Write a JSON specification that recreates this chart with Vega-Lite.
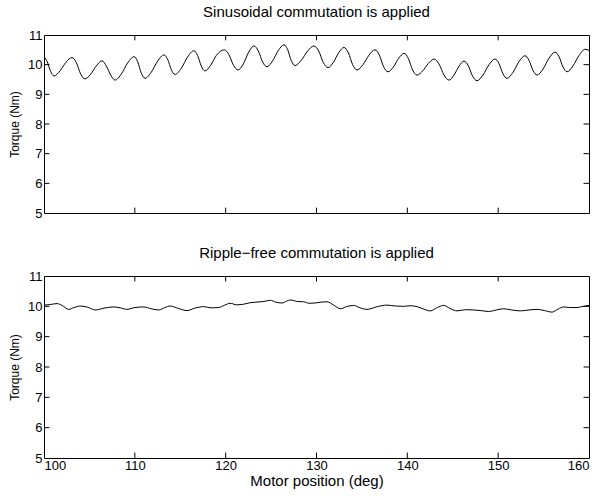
{
  "$schema": "https://vega.github.io/schema/vega-lite/v6.json",
  "padding": {"left": 8, "top": 4, "right": 8, "bottom": 2},
  "config": {
    "font": "Liberation Sans",
    "view": {"stroke": "black", "strokeWidth": 1},
    "axis": {
      "grid": false,
      "domain": false,
      "ticks": false,
      "labelPadding": 2,
      "labelColor": "black",
      "labelFontSize": 13,
      "labelFont": "Liberation Sans",
      "titleFont": "Liberation Sans",
      "titleFontWeight": "normal",
      "titleColor": "black"
    },
    "title": {"font": "Liberation Sans", "fontSize": 15, "fontWeight": "normal", "color": "black", "offset": 9}
  },
  "spacing": 24,
  "datasets": {
    "xticks": [{"v": 110}, {"v": 120}, {"v": 130}, {"v": 140}, {"v": 150}],
    "yticks": [{"v": 6}, {"v": 7}, {"v": 8}, {"v": 9}, {"v": 10}],
    "top": [
      {"pos": 100.0, "torque": 10.26}, {"pos": 100.37, "torque": 10.09}, {"pos": 100.73, "torque": 9.77}, {"pos": 101.1, "torque": 9.62},
      {"pos": 101.76, "torque": 9.79}, {"pos": 102.42, "torque": 10.08}, {"pos": 103.08, "torque": 10.24},
      {"pos": 103.56, "torque": 10.07}, {"pos": 104.03, "torque": 9.69}, {"pos": 104.51, "torque": 9.52},
      {"pos": 105.14, "torque": 9.68}, {"pos": 105.76, "torque": 9.96}, {"pos": 106.39, "torque": 10.13},
      {"pos": 106.87, "torque": 9.95}, {"pos": 107.34, "torque": 9.65}, {"pos": 107.82, "torque": 9.48},
      {"pos": 108.52, "torque": 9.69}, {"pos": 109.21, "torque": 10.06}, {"pos": 109.91, "torque": 10.27},
      {"pos": 110.31, "torque": 10.1}, {"pos": 110.72, "torque": 9.71}, {"pos": 111.12, "torque": 9.54},
      {"pos": 111.82, "torque": 9.75}, {"pos": 112.51, "torque": 10.12}, {"pos": 113.21, "torque": 10.33},
      {"pos": 113.61, "torque": 10.18}, {"pos": 114.02, "torque": 9.83}, {"pos": 114.42, "torque": 9.67},
      {"pos": 115.12, "torque": 9.88}, {"pos": 115.81, "torque": 10.26}, {"pos": 116.51, "torque": 10.47},
      {"pos": 116.91, "torque": 10.31}, {"pos": 117.32, "torque": 9.95}, {"pos": 117.72, "torque": 9.79},
      {"pos": 118.35, "torque": 9.98}, {"pos": 118.97, "torque": 10.31}, {"pos": 119.85, "torque": 10.5},
      {"pos": 120.35, "torque": 10.34}, {"pos": 120.86, "torque": 9.98}, {"pos": 121.36, "torque": 9.82},
      {"pos": 121.95, "torque": 10.03}, {"pos": 122.53, "torque": 10.42}, {"pos": 123.12, "torque": 10.63},
      {"pos": 123.6, "torque": 10.46}, {"pos": 124.07, "torque": 10.09}, {"pos": 124.55, "torque": 9.93},
      {"pos": 125.17, "torque": 10.13}, {"pos": 125.8, "torque": 10.48}, {"pos": 126.42, "torque": 10.67},
      {"pos": 126.82, "torque": 10.51}, {"pos": 127.23, "torque": 10.13}, {"pos": 127.63, "torque": 9.97},
      {"pos": 128.33, "torque": 10.15}, {"pos": 129.02, "torque": 10.46}, {"pos": 129.72, "torque": 10.63},
      {"pos": 130.24, "torque": 10.46}, {"pos": 130.75, "torque": 10.07}, {"pos": 131.27, "torque": 9.9},
      {"pos": 131.86, "torque": 10.08}, {"pos": 132.44, "torque": 10.4}, {"pos": 133.03, "torque": 10.58},
      {"pos": 133.51, "torque": 10.4}, {"pos": 133.98, "torque": 10.0}, {"pos": 134.46, "torque": 9.82},
      {"pos": 135.12, "torque": 10.0}, {"pos": 135.78, "torque": 10.32}, {"pos": 136.44, "torque": 10.5},
      {"pos": 136.92, "torque": 10.32}, {"pos": 137.39, "torque": 9.93}, {"pos": 137.87, "torque": 9.76},
      {"pos": 138.46, "torque": 9.92}, {"pos": 139.04, "torque": 10.21}, {"pos": 139.63, "torque": 10.38},
      {"pos": 140.11, "torque": 10.21}, {"pos": 140.58, "torque": 9.82}, {"pos": 141.06, "torque": 9.65},
      {"pos": 141.69, "torque": 9.79}, {"pos": 142.31, "torque": 10.04}, {"pos": 142.94, "torque": 10.19},
      {"pos": 143.49, "torque": 10.02}, {"pos": 144.04, "torque": 9.65}, {"pos": 144.59, "torque": 9.48},
      {"pos": 145.14, "torque": 9.65}, {"pos": 145.69, "torque": 9.95}, {"pos": 146.24, "torque": 10.12},
      {"pos": 146.72, "torque": 9.96}, {"pos": 147.19, "torque": 9.61}, {"pos": 147.67, "torque": 9.46},
      {"pos": 148.33, "torque": 9.65}, {"pos": 148.99, "torque": 10.0}, {"pos": 149.65, "torque": 10.19},
      {"pos": 150.09, "torque": 10.04}, {"pos": 150.53, "torque": 9.69}, {"pos": 150.97, "torque": 9.54},
      {"pos": 151.63, "torque": 9.74}, {"pos": 152.29, "torque": 10.1}, {"pos": 152.95, "torque": 10.3},
      {"pos": 153.39, "torque": 10.15}, {"pos": 153.84, "torque": 9.8}, {"pos": 154.28, "torque": 9.65},
      {"pos": 154.94, "torque": 9.85}, {"pos": 155.6, "torque": 10.22}, {"pos": 156.26, "torque": 10.42},
      {"pos": 156.7, "torque": 10.27}, {"pos": 157.14, "torque": 9.92}, {"pos": 157.58, "torque": 9.76},
      {"pos": 158.24, "torque": 9.96}, {"pos": 158.9, "torque": 10.31}, {"pos": 159.56, "torque": 10.52},
      {"pos": 160.0, "torque": 10.48}
    ],
    "bottom": [
      {"pos": 100.0, "torque": 10.04}, {"pos": 100.7, "torque": 10.06}, {"pos": 101.43, "torque": 10.09}, {"pos": 102.0, "torque": 10.03},
      {"pos": 102.72, "torque": 9.9}, {"pos": 103.3, "torque": 9.96}, {"pos": 104.0, "torque": 10.01}, {"pos": 104.8, "torque": 9.97},
      {"pos": 105.65, "torque": 9.88}, {"pos": 106.6, "torque": 9.94}, {"pos": 107.67, "torque": 9.98}, {"pos": 108.4, "torque": 9.95},
      {"pos": 109.14, "torque": 9.9}, {"pos": 110.0, "torque": 9.96}, {"pos": 110.97, "torque": 9.98}, {"pos": 111.8, "torque": 9.92},
      {"pos": 112.63, "torque": 9.88}, {"pos": 113.3, "torque": 9.96}, {"pos": 113.9, "torque": 10.01}, {"pos": 114.8, "torque": 9.93},
      {"pos": 115.74, "torque": 9.86}, {"pos": 116.6, "torque": 9.94}, {"pos": 117.58, "torque": 9.99}, {"pos": 118.4, "torque": 9.95},
      {"pos": 119.23, "torque": 9.96}, {"pos": 119.9, "torque": 10.04}, {"pos": 120.51, "torque": 10.1}, {"pos": 121.2, "torque": 10.05},
      {"pos": 121.98, "torque": 10.07}, {"pos": 122.7, "torque": 10.12}, {"pos": 123.45, "torque": 10.14}, {"pos": 124.2, "torque": 10.16},
      {"pos": 124.91, "torque": 10.2}, {"pos": 125.5, "torque": 10.14}, {"pos": 126.2, "torque": 10.11}, {"pos": 126.7, "torque": 10.17},
      {"pos": 127.12, "torque": 10.21}, {"pos": 127.9, "torque": 10.16}, {"pos": 128.59, "torque": 10.15}, {"pos": 129.2, "torque": 10.1},
      {"pos": 129.87, "torque": 10.11}, {"pos": 130.5, "torque": 10.14}, {"pos": 131.16, "torque": 10.15}, {"pos": 131.9, "torque": 10.04},
      {"pos": 132.62, "torque": 9.92}, {"pos": 133.3, "torque": 9.99}, {"pos": 134.09, "torque": 10.03}, {"pos": 134.8, "torque": 9.95},
      {"pos": 135.56, "torque": 9.9}, {"pos": 136.7, "torque": 9.99}, {"pos": 137.76, "torque": 10.04}, {"pos": 138.7, "torque": 10.01},
      {"pos": 139.6, "torque": 10.0}, {"pos": 140.3, "torque": 10.02}, {"pos": 141.06, "torque": 9.99}, {"pos": 141.8, "torque": 9.91},
      {"pos": 142.53, "torque": 9.85}, {"pos": 143.3, "torque": 9.96}, {"pos": 144.0, "torque": 10.03}, {"pos": 144.7, "torque": 9.93},
      {"pos": 145.47, "torque": 9.85}, {"pos": 146.4, "torque": 9.89}, {"pos": 147.3, "torque": 9.88}, {"pos": 148.1, "torque": 9.86},
      {"pos": 148.96, "torque": 9.83}, {"pos": 149.8, "torque": 9.88}, {"pos": 150.61, "torque": 9.92}, {"pos": 151.5, "torque": 9.88},
      {"pos": 152.44, "torque": 9.85}, {"pos": 153.4, "torque": 9.88}, {"pos": 154.28, "torque": 9.9}, {"pos": 155.1, "torque": 9.86},
      {"pos": 155.93, "torque": 9.81}, {"pos": 156.6, "torque": 9.91}, {"pos": 157.21, "torque": 9.98}, {"pos": 157.9, "torque": 9.96},
      {"pos": 158.68, "torque": 9.96}, {"pos": 159.2, "torque": 9.99}, {"pos": 159.6, "torque": 10.01}, {"pos": 160.0, "torque": 10.03}
    ]
  },
  "vconcat": [
    {
      "title": {"text": "Sinusoidal commutation is applied"},
      "width": 545,
      "height": 178,
      "layer": [
        {
          "data": {"name": "top"},
          "mark": {"type": "line", "color": "black", "strokeWidth": 1, "interpolate": "monotone", "clip": true},
          "encoding": {
            "x": {"field": "pos", "type": "quantitative", "scale": {"domain": [100, 160], "nice": false, "zero": false},
                  "axis": {"labels": false, "title": null, "values": [100, 110, 120, 130, 140, 150, 160]}},
            "y": {"field": "torque", "type": "quantitative", "scale": {"domain": [5, 11], "nice": false, "zero": false},
                  "axis": {"title": "Torque (Nm)", "titleFontSize": 12, "titlePadding": 6, "values": [5, 6, 7, 8, 9, 10, 11]}}
          }
        },
        {
          "data": {"name": "xticks"},
          "mark": {"type": "rule", "color": "black", "strokeWidth": 1},
          "encoding": {"x": {"field": "v", "type": "quantitative", "axis": {"labels": false, "title": null, "values": [100, 110, 120, 130, 140, 150, 160]}},
                       "y": {"datum": 5, "axis": {"title": "Torque (Nm)", "values": [5, 6, 7, 8, 9, 10, 11]}}, "y2": {"datum": 5.18}}
        },
        {
          "data": {"name": "xticks"},
          "mark": {"type": "rule", "color": "black", "strokeWidth": 1},
          "encoding": {"x": {"field": "v", "type": "quantitative", "axis": {"labels": false, "title": null, "values": [100, 110, 120, 130, 140, 150, 160]}},
                       "y": {"datum": 11, "axis": {"title": "Torque (Nm)", "values": [5, 6, 7, 8, 9, 10, 11]}}, "y2": {"datum": 10.82}}
        },
        {
          "data": {"name": "yticks"},
          "mark": {"type": "rule", "color": "black", "strokeWidth": 1},
          "encoding": {"y": {"field": "v", "type": "quantitative", "axis": {"title": "Torque (Nm)", "values": [5, 6, 7, 8, 9, 10, 11]}},
                       "x": {"datum": 100, "axis": {"labels": false, "title": null, "values": [100, 110, 120, 130, 140, 150, 160]}}, "x2": {"datum": 100.6}}
        },
        {
          "data": {"name": "yticks"},
          "mark": {"type": "rule", "color": "black", "strokeWidth": 1},
          "encoding": {"y": {"field": "v", "type": "quantitative", "axis": {"title": "Torque (Nm)", "values": [5, 6, 7, 8, 9, 10, 11]}},
                       "x": {"datum": 160, "axis": {"labels": false, "title": null, "values": [100, 110, 120, 130, 140, 150, 160]}}, "x2": {"datum": 159.4}}
        }
      ]
    },
    {
      "title": {"text": "Ripple\u2212free commutation is applied"},
      "width": 545,
      "height": 182,
      "layer": [
        {
          "data": {"name": "bottom"},
          "mark": {"type": "line", "color": "black", "strokeWidth": 1, "interpolate": "monotone", "clip": true},
          "encoding": {
            "x": {"field": "pos", "type": "quantitative", "scale": {"domain": [100, 160], "nice": false, "zero": false},
                  "axis": {"title": "Motor position (deg)", "titleFontSize": 15, "titlePadding": 1, "labelPadding": 1, "values": [100, 110, 120, 130, 140, 150, 160]}},
            "y": {"field": "torque", "type": "quantitative", "scale": {"domain": [5, 11], "nice": false, "zero": false},
                  "axis": {"title": "Torque (Nm)", "titleFontSize": 12, "titlePadding": 6, "values": [5, 6, 7, 8, 9, 10, 11]}}
          }
        },
        {
          "data": {"name": "xticks"},
          "mark": {"type": "rule", "color": "black", "strokeWidth": 1},
          "encoding": {"x": {"field": "v", "type": "quantitative", "axis": {"title": "Motor position (deg)", "values": [100, 110, 120, 130, 140, 150, 160]}},
                       "y": {"datum": 5, "axis": {"title": "Torque (Nm)", "values": [5, 6, 7, 8, 9, 10, 11]}}, "y2": {"datum": 5.18}}
        },
        {
          "data": {"name": "xticks"},
          "mark": {"type": "rule", "color": "black", "strokeWidth": 1},
          "encoding": {"x": {"field": "v", "type": "quantitative", "axis": {"title": "Motor position (deg)", "values": [100, 110, 120, 130, 140, 150, 160]}},
                       "y": {"datum": 11, "axis": {"title": "Torque (Nm)", "values": [5, 6, 7, 8, 9, 10, 11]}}, "y2": {"datum": 10.82}}
        },
        {
          "data": {"name": "yticks"},
          "mark": {"type": "rule", "color": "black", "strokeWidth": 1},
          "encoding": {"y": {"field": "v", "type": "quantitative", "axis": {"title": "Torque (Nm)", "values": [5, 6, 7, 8, 9, 10, 11]}},
                       "x": {"datum": 100, "axis": {"title": "Motor position (deg)", "values": [100, 110, 120, 130, 140, 150, 160]}}, "x2": {"datum": 100.6}}
        },
        {
          "data": {"name": "yticks"},
          "mark": {"type": "rule", "color": "black", "strokeWidth": 1},
          "encoding": {"y": {"field": "v", "type": "quantitative", "axis": {"title": "Torque (Nm)", "values": [5, 6, 7, 8, 9, 10, 11]}},
                       "x": {"datum": 160, "axis": {"title": "Motor position (deg)", "values": [100, 110, 120, 130, 140, 150, 160]}}, "x2": {"datum": 159.4}}
        }
      ]
    }
  ]
}
